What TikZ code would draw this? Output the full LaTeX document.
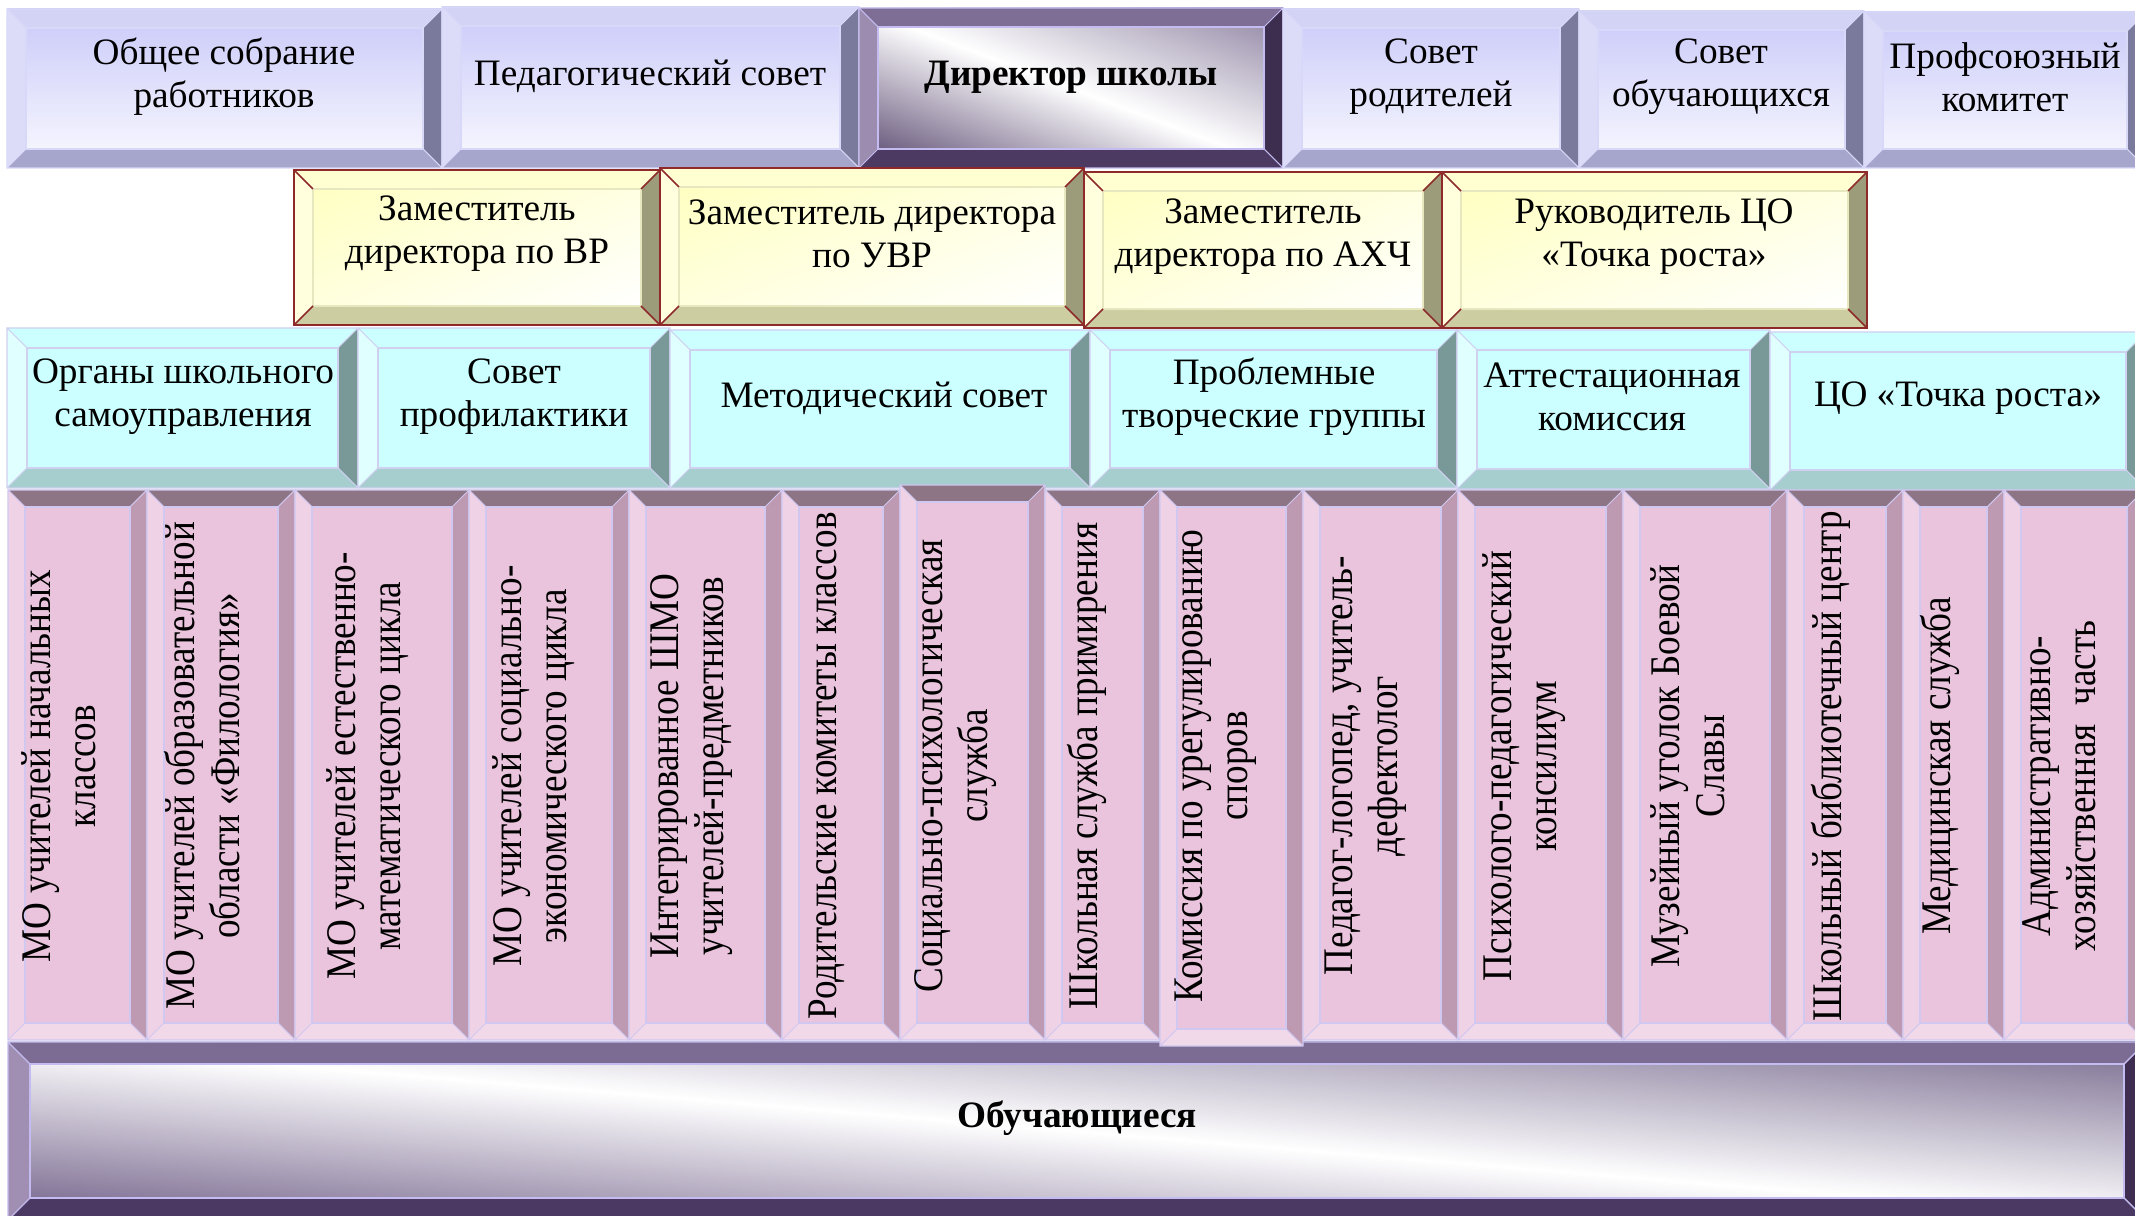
\documentclass[tikz,border=0pt]{standalone}
\usepackage{fontspec}
\setmainfont{Liberation Serif}
\usepackage{graphicx}
% palettes
\definecolor{lavT}{HTML}{D3D3F5}
\definecolor{lavL}{HTML}{DCDCF9}
\definecolor{lavR}{HTML}{7A7A9C}
\definecolor{lavB}{HTML}{A6A6CD}
\definecolor{lavFT}{HTML}{C9C9F9}
\definecolor{lavFB}{HTML}{FAFAFF}
\definecolor{lavLine}{HTML}{D8D8F8}
\definecolor{dirT}{HTML}{7E6E96}
\definecolor{dirL}{HTML}{9C8CB0}
\definecolor{dirR}{HTML}{3D2D4F}
\definecolor{dirB}{HTML}{4C3A63}
\definecolor{dirFA}{HTML}{4E3C66}
\definecolor{dirFC}{HTML}{8A7E9E}
\definecolor{dirLine}{HTML}{C4BCF0}
\definecolor{yelT}{HTML}{FFFFD2}
\definecolor{yelL}{HTML}{FFFFDE}
\definecolor{yelR}{HTML}{9C9C7A}
\definecolor{yelB}{HTML}{CDCDA2}
\definecolor{yelFT}{HTML}{FFFFC2}
\definecolor{yelLine}{HTML}{8E2A2A}
\definecolor{yelIn}{HTML}{E8E8C0}
\definecolor{cyaT}{HTML}{CCFFFF}
\definecolor{cyaL}{HTML}{E0FFFF}
\definecolor{cyaR}{HTML}{799999}
\definecolor{cyaB}{HTML}{A6CECE}
\definecolor{cyaFace}{HTML}{CCFFFF}
\definecolor{cyaLine}{HTML}{D0D0F0}
\definecolor{pnkT}{HTML}{8D7585}
\definecolor{pnkL}{HTML}{F0D2E6}
\definecolor{pnkR}{HTML}{BE9AB2}
\definecolor{pnkB}{HTML}{F2D9E9}
\definecolor{pnkFace}{HTML}{EAC4DC}
\definecolor{pnkLine}{HTML}{D0C8F0}
\definecolor{purT}{HTML}{7C6C94}
\definecolor{purL}{HTML}{A08FB2}
\definecolor{purR}{HTML}{3E2D51}
\definecolor{purB}{HTML}{4B3963}
\definecolor{purFA}{HTML}{6E5D86}
\definecolor{purFC}{HTML}{75688C}
% half size of the shaded square behind each face (50 = colours saturate at 1/4 and 3/4)
\def\fplav{50}\def\fpdir{72}\def\fpyel{60}\def\fpcya{50}\def\fppnk{50}\def\fppur{72}
\tikzset{
  lavF/.style={top color=lavFT, bottom color=lavFB},
  lavE/.style={draw=lavLine, line width=0.3pt},
  lavI/.style={draw=lavLine, line width=0.3pt},
  dirF/.style={top color=dirFA, bottom color=dirFC, middle color=white, shading angle=135},
  dirE/.style={draw=dirLine, line width=0.3pt},
  dirI/.style={draw=dirLine, line width=0.3pt},
  yelF/.style={top color=yelFT, bottom color=white, shading angle=45},
  yelE/.style={draw=yelLine, line width=0.45pt},
  yelI/.style={draw=yelIn, line width=0.3pt},
  cyaF/.style={fill=cyaFace},
  cyaE/.style={draw=cyaLine, line width=0.3pt},
  cyaI/.style={draw=cyaLine, line width=0.3pt},
  pnkF/.style={fill=pnkFace},
  pnkE/.style={draw=pnkLine, line width=0.3pt},
  pnkI/.style={draw=pnkLine, line width=0.3pt},
  purF/.style={top color=purFA, bottom color=purFC, middle color=white, shading angle=135},
  purE/.style={draw=dirLine, line width=0.4pt},
  purI/.style={draw=dirLine, line width=0.4pt},
  tt/.style={font=\fontsize{10.6}{12.2}\selectfont, align=center, inner sep=0pt},
  ttb/.style={font=\fontsize{10.6}{12.2}\selectfont\bfseries, align=center, inner sep=0pt},
  pt/.style={inner sep=0pt}
}
% face drawn as a unit square stretched by the canvas, so that shadings follow the box
% #1..#4 box, #5 style, #6 half size of shaded square
\newcommand\facefill[6]{%
  \begin{scope}[transform canvas={shift={({(#1+#3)/2},{(#2+#4)/2})}, xscale={(#3-#1)/100}, yscale={(#4-#2)/100}}]
    \clip (-50,-50) rectangle (50,50);
    \path[#5] (-#6,-#6) rectangle (#6,#6);
  \end{scope}}
% #1 x1, #2 y1, #3 x2, #4 y2, #5 bevel, #6 palette
\newcommand\bevbox[6]{%
  \facefill{#1+#5}{#2+#5}{#3-#5}{#4-#5}{#6F}{\csname fp#6\endcsname}
  \fill[#6T] (#1,#2) -- (#3,#2) -- ({#3-#5},{#2+#5}) -- ({#1+#5},{#2+#5}) -- cycle;
  \fill[#6B] (#1,#4) -- (#3,#4) -- ({#3-#5},{#4-#5}) -- ({#1+#5},{#4-#5}) -- cycle;
  \fill[#6L] (#1,#2) -- ({#1+#5},{#2+#5}) -- ({#1+#5},{#4-#5}) -- (#1,#4) -- cycle;
  \fill[#6R] (#3,#2) -- ({#3-#5},{#2+#5}) -- ({#3-#5},{#4-#5}) -- (#3,#4) -- cycle;
  \draw[#6I] ({#1+#5},{#2+#5}) rectangle ({#3-#5},{#4-#5});
  \draw[#6E] (#1,#2) rectangle (#3,#4)
    (#1,#2) -- ({#1+#5},{#2+#5}) (#3,#2) -- ({#3-#5},{#2+#5})
    (#1,#4) -- ({#1+#5},{#4-#5}) (#3,#4) -- ({#3-#5},{#4-#5});
}
\newcommand\pinktext[1]{\rotatebox{90}{\scalebox{0.88}[1]{\fontsize{12}{12.8}\selectfont\begin{tabular}{@{}c@{}}#1\end{tabular}}}}
\begin{document}
\begin{tikzpicture}[x=0.01cm, y=-0.01cm]
\useasboundingbox (0,0) rectangle (2135,1216);
\clip (0,0) rectangle (2135,1216);
\fill[white] (0,0) rectangle (2135,1216);
% top row
\bevbox{7}{9}{442}{168}{19}{lav}
\bevbox{442}{7}{859}{168}{19}{lav}
\bevbox{859}{8}{1283}{168}{19}{dir}
\bevbox{1283}{9}{1579}{168}{19}{lav}
\bevbox{1579}{11}{1864}{168}{19}{lav}
\bevbox{1864}{12}{2146}{168}{19}{lav}
% yellow row
\bevbox{294}{170}{660}{325}{19}{yel}
\bevbox{660}{168}{1084}{325}{19}{yel}
\bevbox{1084}{172}{1442}{328}{19}{yel}
\bevbox{1442}{172}{1867}{328}{19}{yel}
% cyan row
\bevbox{7}{328}{358}{488}{20}{cya}
\bevbox{358}{328}{670}{488}{20}{cya}
\bevbox{670}{330}{1090}{488}{20}{cya}
\bevbox{1090}{330}{1457}{488}{20}{cya}
\bevbox{1457}{330}{1770}{489}{20}{cya}
\bevbox{1770}{332}{2146}{490}{20}{cya}
% bottom box
\bevbox{8}{1042}{2146}{1220}{22}{pur}
% pink columns
\bevbox{8}{490}{147}{1040}{17}{pnk}
\bevbox{147}{490}{295}{1040}{17}{pnk}
\bevbox{295}{490}{469}{1040}{17}{pnk}
\bevbox{469}{490}{629}{1040}{17}{pnk}
\bevbox{629}{490}{782}{1040}{17}{pnk}
\bevbox{782}{490}{900}{1040}{17}{pnk}
\bevbox{900}{485}{1045}{1040}{17}{pnk}
\bevbox{1045}{490}{1160}{1040}{17}{pnk}
\bevbox{1160}{490}{1303}{1046}{17}{pnk}
\bevbox{1303}{490}{1458}{1040}{17}{pnk}
\bevbox{1458}{490}{1623}{1040}{17}{pnk}
\bevbox{1623}{490}{1787}{1040}{17}{pnk}
\bevbox{1787}{490}{1903}{1040}{17}{pnk}
\bevbox{1903}{490}{2004}{1040}{17}{pnk}
\bevbox{2004}{490}{2144}{1040}{17}{pnk}
% texts: top row
\node[tt] (sobr) at (224,77) {Общее собрание\\работников};
\node[tt] (pedsov) at (650,76) {Педагогический совет};
\node[ttb] (dir) at (1071,77) {Директор школы};
\node[tt] (sovrod) at (1431,77) {Совет\\родителей};
\node[tt] (sovob) at (1721,77) {Совет\\обучающихся};
\node[tt] (prof) at (2005,77) {Профсоюзный\\комитет};
% yellow row
\node[tt] (zvr) at (477,234) {Заместитель\\директора по ВР};
\node[tt] (zuvr) at (872,234) {Заместитель директора\\по УВР};
\node[tt] (zahch) at (1263,237) {Заместитель\\директора по АХЧ};
\node[tt] (rukco) at (1654,237) {Руководитель ЦО\\«Точка роста»};
% cyan row
\node[tt] (organy) at (183,397) {Органы школьного\\самоуправления};
\node[tt] (sprof) at (514,397) {Совет\\профилактики};
\node[tt] (metod) at (884,398) {Методический совет};
\node[tt] (ptg) at (1274,397) {Проблемные\\творческие группы};
\node[tt] (attest) at (1612,397) {Аттестационная\\комиссия};
\node[tt] (cotr) at (1958,398) {ЦО «Точка роста»};
% pink columns
\node[pt] (p1) at (64,766) {\pinktext{МО учителей начальных\\классов}};
\node[pt] (p2) at (208,766) {\pinktext{МО учителей образовательной\\области «Филология»}};
\node[pt] (p3) at (369,766) {\pinktext{МО учителей естественно-\\математического цикла}};
\node[pt] (p4) at (535,766) {\pinktext{МО учителей социально-\\экономического цикла}};
\node[pt] (p5) at (692,766) {\pinktext{Интегрированное ШМО\\учителей-предметников}};
\node[pt] (p6) at (827,766) {\pinktext{Родительские комитеты классов}};
\node[pt] (p7) at (956,766) {\pinktext{Социально-психологическая\\служба}};
\node[pt] (p8) at (1088,766) {\pinktext{Школьная служба примирения}};
\node[pt] (p9) at (1216,766) {\pinktext{Комиссия по урегулированию\\споров}};
\node[pt] (p10) at (1366,766) {\pinktext{Педагог-логопед, учитель-\\дефектолог}};
\node[pt] (p11) at (1525,766) {\pinktext{Психолого-педагогический\\консилиум}};
\node[pt] (p12) at (1693,766) {\pinktext{Музейный уголок Боевой\\Славы}};
\node[pt] (p13) at (1832,766) {\pinktext{Школьный библиотечный центр}};
\node[pt] (p14) at (1941,766) {\pinktext{Медицинская служба}};
\node[pt] (p15) at (2064,786) {\pinktext{Административно-\\хозяйственная\ \ часть}};
% bottom
\node[ttb] (obuch) at (1077,1118) {Обучающиеся};
\end{tikzpicture}
\end{document}
